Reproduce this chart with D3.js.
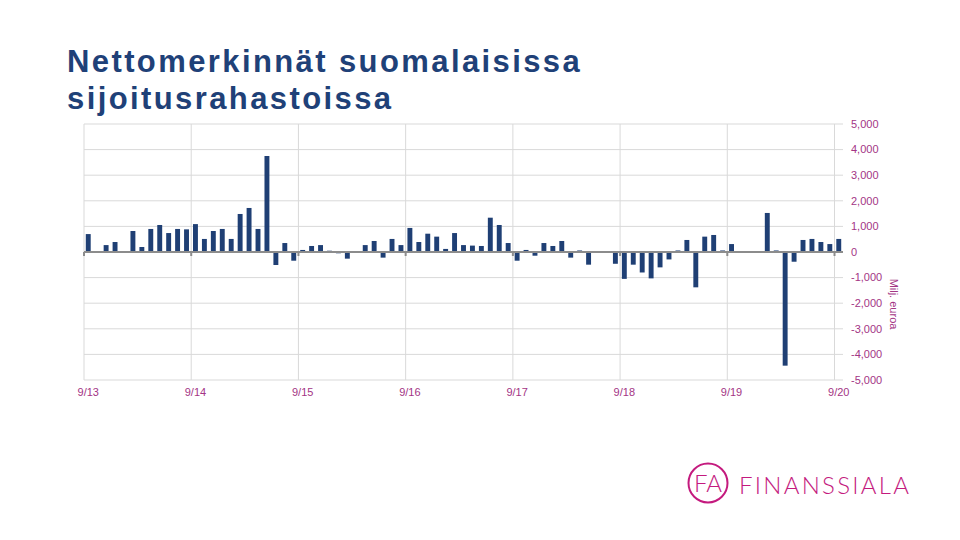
<!DOCTYPE html>
<html>
<head>
<meta charset="utf-8">
<script src="https://cdn.jsdelivr.net/npm/d3@7"></script>
<style>
  body { margin: 0; background: #fff; }
  .title { font-family: "Liberation Sans", Arial, sans-serif; font-weight: bold; font-size: 31px; letter-spacing: 2.4px; fill: #1f4178; }
  .lbl { font-family: "Liberation Sans", Arial, sans-serif; font-size: 11px; fill: #a33585; }
</style>
</head>
<body>
<div id="chart"></div>
<script>
// Data: monthly net subscriptions, 9/13 ... 9/20 (milj. euroa)

var yearTicks = ["9/13", "9/14", "9/15", "9/16", "9/17", "9/18", "9/19", "9/20"];

var values = [
  700, 0, 270, 390, 0, 820, 195, 900, 1055, 740, 900, 885,
  1090, 510, 820, 900, 510, 1485, 1720, 900, 3750, -508, 350, -340,
  80, 235, 270, 50, -50, -260, 20, 270, 430, -220, 510, 270,
  940, 390, 715, 600, 120, 740, 270, 250, 235, 1340, 1055, 350,
  -340, 80, -145, 350, 235, 430, -220, 60, -495, -20, 0, -460,
  -1050, -495, -800, -1030, -600, -290, 60, 470, -1380, 600, 665, 60,
  310, 0, 0, 20, 1525, 60, -4440, -380, 470, 510, 390, 310,
  510
];

var yTicks = [5000, 4000, 3000, 2000, 1000, 0, -1000, -2000, -3000, -4000, -5000];

// month keys "9/13", "10/13", ...
var months = values.map(function(v, i) {
  var m = (8 + i) % 12 + 1;
  var y = 13 + Math.floor((8 + i) / 12);
  return m + "/" + y;
});

var width = 960, height = 540;
var plot = {left: 84, right: 843, top: 124, bottom: 380};

var svg = d3.select("#chart")
  .append("svg")
  .attr("width", width)
  .attr("height", height);

// Title
svg.append("text").attr("class", "title").attr("x", 67).attr("y", 72).text("Nettomerkinnät suomalaisissa");
svg.append("text").attr("class", "title").attr("x", 67).attr("y", 109).text("sijoitusrahastoissa");

// Scales
var xScale = d3.scaleBand()
  .domain(months)
  .range([plot.left, plot.right])
  .paddingInner(0.45)
  .paddingOuter(0.2);

var yScale = d3.scaleLinear()
  .domain([-5000, 5000])
  .range([plot.bottom, plot.top]);

var off = xScale.step() * 0.2;

// Grid
svg.append("g").selectAll("line.h")
  .data(yTicks)
  .enter().append("line")
  .attr("x1", plot.left).attr("x2", plot.right)
  .attr("y1", d => yScale(d)).attr("y2", d => yScale(d))
  .attr("stroke", "#d9d9d9").attr("stroke-width", 1);

svg.append("g").selectAll("line.v")
  .data(yearTicks)
  .enter().append("line")
  .attr("x1", d => xScale(d) - off).attr("x2", d => xScale(d) - off)
  .attr("y1", plot.top).attr("y2", plot.bottom)
  .attr("stroke", "#d9d9d9").attr("stroke-width", 1);

// Bars
svg.append("g").selectAll("rect")
  .data(values)
  .enter().append("rect")
  .attr("x", (d, i) => xScale(months[i]))
  .attr("width", xScale.bandwidth())
  .attr("y", d => yScale(Math.max(0, d)))
  .attr("height", d => Math.abs(yScale(d) - yScale(0)))
  .attr("fill", "#1f3f74");

// Zero line + small ticks
svg.append("line")
  .attr("x1", plot.left).attr("x2", plot.right)
  .attr("y1", yScale(0)).attr("y2", yScale(0))
  .attr("stroke", "#8c8c8c").attr("stroke-width", 2);

svg.append("g").selectAll("line")
  .data(yearTicks)
  .enter().append("line")
  .attr("x1", d => xScale(d) - off).attr("x2", d => xScale(d) - off)
  .attr("y1", yScale(0)).attr("y2", yScale(0) + 4)
  .attr("stroke", "#8c8c8c").attr("stroke-width", 2);

// Y labels (right)
svg.append("g").selectAll("text")
  .data(yTicks)
  .enter().append("text")
  .attr("class", "lbl")
  .attr("x", 851)
  .attr("y", d => yScale(d))
  .attr("dy", "0.35em")
  .text(d => d3.format(",")(d).replace("−", "-"));

// X labels
svg.append("g").selectAll("text")
  .data(yearTicks)
  .enter().append("text")
  .attr("class", "lbl")
  .attr("x", d => xScale(d) + xScale.bandwidth() / 2)
  .attr("y", 396)
  .attr("text-anchor", "middle")
  .text(d => d);

// Axis title
svg.append("text")
  .attr("class", "lbl")
  .attr("transform", "translate(890, 304) rotate(90)")
  .attr("text-anchor", "middle")
  .text("Milj. euroa");

// Logo
var logo = svg.append("g");
logo.append("circle")
  .attr("cx", 708).attr("cy", 483).attr("r", 19.5)
  .attr("fill", "none").attr("stroke", "#c41a7e").attr("stroke-width", 2);
logo.append("text")
  .attr("x", 708).attr("y", 492)
  .attr("text-anchor", "middle")
  .attr("font-family", "Lato, sans-serif").attr("font-weight", 300)
  .attr("font-size", 24).attr("fill", "#c41a7e")
  .text("FA");
logo.append("text")
  .attr("x", 739).attr("y", 494)
  .attr("font-family", "Lato, sans-serif").attr("font-weight", 300)
  .attr("font-size", 24).attr("fill", "#c41a7e")
  .attr("textLength", 170).attr("lengthAdjust", "spacing")
  .text("FINANSSIALA");
</script>
</body>
</html>
